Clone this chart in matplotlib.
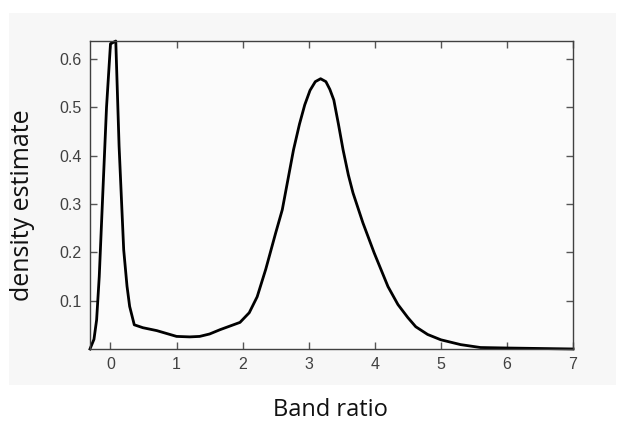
import matplotlib.pyplot as plt
import numpy as np
from matplotlib.patches import Rectangle

# band ratio vs. density estimate
band_ratio = [-0.31, -0.25, -0.21, -0.17, -0.12, -0.06, 0.0, 0.04, 0.08, 0.13, 0.2,
              0.25, 0.29, 0.36, 0.49, 0.7, 0.85, 1.0, 1.2, 1.35, 1.5, 1.66, 1.8,
              1.96, 2.1, 2.22, 2.35, 2.5, 2.6, 2.77, 2.86, 2.94, 3.02, 3.1, 3.18,
              3.26, 3.32, 3.38, 3.45, 3.52, 3.6, 3.67, 3.82, 3.99, 4.2, 4.35, 4.5,
              4.62, 4.8, 5.0, 5.3, 5.6, 6.0, 6.5, 7.0]
density = [0.0, 0.02, 0.06, 0.15, 0.31, 0.5, 0.631, 0.634, 0.637, 0.42, 0.205,
           0.13, 0.088, 0.05, 0.044, 0.038, 0.032, 0.026, 0.025, 0.026, 0.031, 0.04, 0.047,
           0.055, 0.075, 0.108, 0.165, 0.24, 0.288, 0.412, 0.465, 0.505, 0.535, 0.553, 0.559,
           0.553, 0.537, 0.515, 0.465, 0.412, 0.36, 0.323, 0.261, 0.199, 0.129, 0.092, 0.065,
           0.046, 0.03, 0.019, 0.009, 0.003, 0.002, 0.001, 0.0]

xticks = [0, 1, 2, 3, 4, 5, 6, 7]
yticks = [0.1, 0.2, 0.3, 0.4, 0.5, 0.6]

fig = plt.figure(figsize=(6.19, 4.23), dpi=100, facecolor='white')
fig.patches.append(Rectangle((0.015, 0.09), 0.98, 0.88, transform=fig.transFigure,
                             facecolor='#f7f7f7', edgecolor='none', zorder=-1))
ax = fig.add_axes([0.1454, 0.175, 0.7803, 0.728])
ax.set_facecolor('#fbfbfb')

ax.plot(band_ratio, density, color='black', lw=2, clip_on=False,
        solid_joinstyle='round')

ax.set_xlim(-0.31, 7)
ax.set_ylim(0, 0.637)
ax.set_xticks(xticks)
ax.set_yticks(yticks)
ax.set_xticklabels([str(t) for t in xticks])
ax.set_yticklabels([f'{t:.1f}' for t in yticks])
ax.tick_params(direction='in', length=5, width=1, colors='#555555',
               labelcolor='#404040', labelsize=11.5, top=True, right=True,
               pad=6, labelfontfamily='Liberation Sans')
for s in ax.spines.values():
    s.set_color('#404040')
    s.set_linewidth(1)

fig.text(0.534, 0.031, 'Band ratio', fontsize=17, family='Open Sans',
         color='#111111', ha='center', va='center')
fig.text(0.036, 0.515, 'density estimate', rotation=90, fontsize=18, family='Open Sans',
         color='#111111', ha='center', va='center')

plt.savefig('out.png', dpi=100)
